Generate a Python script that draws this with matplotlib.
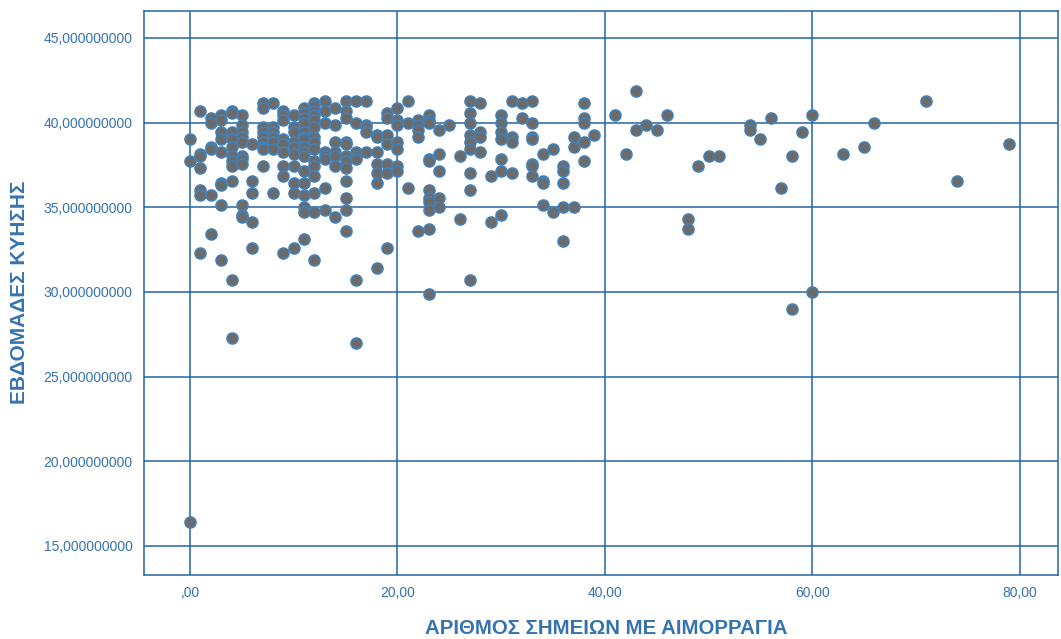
import matplotlib
matplotlib.use("Agg")
import matplotlib.pyplot as plt
from matplotlib.ticker import FuncFormatter

# Number of bleeding sites per case and gestational age (weeks)
bleeding_sites = [
    0, 0, 0,
    1, 1, 1, 1, 1, 1, 1,
    2, 2, 2, 2, 2, 2,
    3, 3, 3, 3, 3, 3, 3, 3, 3,
    4, 4, 4, 4, 4, 4, 4, 4, 4, 4, 4,
    5, 5, 5, 5, 5, 5, 5, 5, 5, 5, 5,
    6, 6, 6, 6, 6,
    7, 7, 7, 7, 7, 7, 7, 7, 7,
    8, 8, 8, 8, 8, 8, 8,
    9, 9, 9, 9, 9, 9, 9, 9, 9,
    10, 10, 10, 10, 10, 10, 10, 10, 10, 10,
    11, 11, 11, 11, 11, 11, 11, 11, 11, 11, 11, 11, 11, 11, 11, 11,
    12, 12, 12, 12, 12, 12, 12, 12, 12, 12, 12, 12, 12, 12, 12,
    13, 13, 13, 13, 13, 13, 13, 13,
    14, 14, 14, 14, 14, 14, 14,
    15, 15, 15, 15, 15, 15, 15, 15, 15, 15, 15, 15,
    16, 16, 16, 16, 16, 16, 16,
    17, 17, 17, 17, 17,
    18, 18, 18, 18, 18, 18, 18,
    19, 19, 19, 19, 19, 19, 19,
    20, 20, 20, 20, 20, 20, 20,
    21, 21, 21,
    22, 22, 22, 22, 22,
    23, 23, 23, 23, 23, 23, 23, 23, 23, 23, 23,
    24, 24, 24, 24, 24,
    25,
    26, 26,
    27, 27, 27, 27, 27, 27, 27, 27, 27,
    28, 28, 28, 28,
    29, 29,
    30, 30, 30, 30, 30, 30, 30,
    31, 31, 31, 31,
    32, 32,
    33, 33, 33, 33, 33, 33, 33,
    34, 34, 34, 34,
    35, 35,
    36, 36, 36, 36, 36,
    37, 37, 37,
    38, 38, 38, 38, 38,
    39,
    41,
    42,
    43, 43,
    44,
    45,
    46,
    48, 48,
    49,
    50,
    51,
    54, 54,
    55,
    56,
    57,
    58, 58,
    59,
    60, 60,
    63,
    65,
    66,
    71,
    74,
    79,
]

gestation_weeks = [
    39.0, 37.71, 16.43,
    40.71, 38.14, 38.0, 37.29, 36.0, 35.71, 32.29,
    40.29, 40.0, 38.57, 38.43, 35.71, 33.43,
    40.43, 40.14, 39.43, 39.0, 38.29, 36.43, 36.29, 35.14, 31.86,
    40.71, 40.57, 39.43, 39.0, 38.57, 38.0, 37.71, 37.43, 36.57, 30.71, 27.29,
    40.43, 39.86, 39.43, 39.14, 38.86, 38.0, 37.86, 37.57, 35.14, 34.57, 34.43,
    38.71, 36.57, 35.86, 34.14, 32.57,
    41.14, 40.86, 39.71, 39.43, 39.14, 38.86, 38.57, 38.43, 37.43,
    41.14, 39.71, 39.43, 39.14, 38.86, 38.43, 35.86,
    40.71, 40.43, 40.14, 39.0, 38.71, 38.29, 37.43, 36.86, 32.29,
    40.43, 39.71, 39.43, 38.86, 38.57, 38.14, 37.43, 36.43, 35.86, 32.57,
    40.86, 40.57, 40.29, 40.0, 39.43, 39.14, 39.0, 38.57, 38.29, 38.0, 37.14, 36.43, 35.71, 35.0, 34.71, 33.14,
    41.14, 41.0, 40.71, 40.43, 40.14, 39.71, 39.14, 38.86, 38.43, 37.71, 37.43, 36.86, 35.86, 34.71, 31.86,
    41.29, 40.71, 40.0, 38.29, 38.0, 37.86, 36.14, 34.86,
    40.86, 39.86, 38.86, 38.29, 38.0, 37.43, 34.43,
    41.29, 40.71, 40.29, 38.86, 38.71, 38.0, 37.71, 37.29, 36.57, 35.57, 34.86, 33.57,
    41.29, 40.0, 38.29, 38.0, 37.86, 30.71, 27.0,
    41.29, 39.86, 39.71, 39.43, 38.29,
    39.29, 39.14, 38.29, 37.57, 37.0, 36.43, 31.43,
    40.57, 40.29, 39.29, 38.71, 37.57, 37.0, 32.57,
    40.86, 40.14, 39.86, 38.86, 38.43, 37.43, 37.14,
    41.29, 40.0, 36.14,
    40.14, 39.86, 39.57, 39.14, 33.57,
    40.43, 40.14, 40.0, 37.86, 37.71, 36.0, 35.57, 35.29, 34.86, 33.71, 29.86,
    39.57, 38.14, 37.14, 35.57, 35.0,
    39.86,
    38.0, 34.29,
    41.29, 40.57, 40.0, 39.29, 38.86, 38.43, 37.0, 36.0, 30.71,
    41.14, 39.43, 39.14, 38.29,
    36.86, 34.14,
    40.43, 40.0, 39.43, 39.0, 37.86, 37.14, 34.57,
    41.29, 39.14, 38.86, 37.0,
    41.14, 40.29,
    41.29, 40.0, 39.14, 39.0, 37.57, 37.43, 36.86,
    38.14, 36.57, 36.43, 35.14,
    38.43, 34.71,
    37.43, 37.14, 36.43, 35.0, 33.0,
    39.14, 38.57, 35.0,
    41.14, 40.29, 40.0, 38.86, 37.71,
    39.29,
    40.43,
    38.14,
    41.86, 39.57,
    39.86,
    39.57,
    40.43,
    34.29, 33.71,
    37.43,
    38.0,
    38.0,
    39.86, 39.57,
    39.0,
    40.29,
    36.14,
    38.0, 29.0,
    39.43,
    40.43, 30.0,
    38.14,
    38.57,
    40.0,
    41.29,
    36.57,
    38.71,
]

x_ticks = [0, 20, 40, 60, 80]
y_ticks = [15, 20, 25, 30, 35, 40, 45]

line_blue = "#2664a3"
text_blue = "#3573b0"

plt.rcParams["font.family"] = ["Liberation Sans", "DejaVu Sans"]

fig = plt.figure(figsize=(10.61, 6.39), dpi=100)
ax = fig.add_axes([0.1357, 0.1002, 0.8615, 0.8826])

ax.scatter(bleeding_sites, gestation_weeks, s=62, facecolor="#6b6b6b",
           edgecolor="#4580b4", linewidth=1.2, zorder=3)

ax.set_xlim(-4.44, 83.7)
ax.set_ylim(13.28, 46.59)
ax.set_xticks(x_ticks)
ax.set_yticks(y_ticks)


def fmt_x(v, pos):
    s = f"{v:.2f}".replace(".", ",")
    return s[1:] if s.startswith("0,") else s


def fmt_y(v, pos):
    return f"{v:.9f}".replace(".", ",")


ax.xaxis.set_major_formatter(FuncFormatter(fmt_x))
ax.yaxis.set_major_formatter(FuncFormatter(fmt_y))

ax.grid(True, color=line_blue, linewidth=1.1, zorder=1)
ax.set_axisbelow(True)
for sp in ax.spines.values():
    sp.set_color(line_blue)
    sp.set_linewidth(1.1)

ax.tick_params(length=0, labelsize=10, labelcolor=text_blue, pad=8)

# axis titles placed in figure coordinates
fig.text(606 / 1061, 1 - 628 / 639, "ΑΡΙΘΜΟΣ ΣΗΜΕΙΩΝ ΜΕ ΑΙΜΟΡΡΑΓΙΑ",
         fontsize=14.7, color=text_blue, fontweight="bold",
         ha="center", va="center")
fig.text(20 / 1061, 1 - 292 / 639, "ΕΒΔΟΜΑΔΕΣ ΚΥΗΣΗΣ",
         fontsize=15, color=text_blue, fontweight="bold",
         ha="center", va="center", rotation=90)

fig.savefig("out.png", dpi=100)
